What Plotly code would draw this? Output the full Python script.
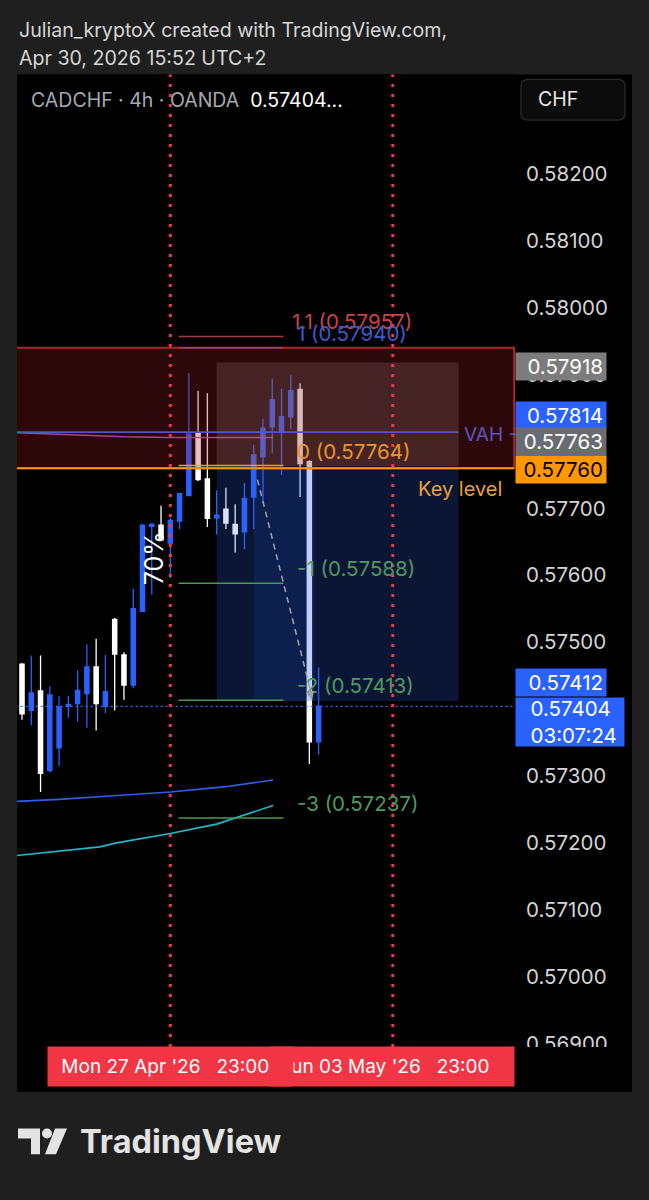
import plotly.graph_objects as go

W, H = 649, 1200

# ---------------- data ----------------
times = [
    "Thu 23 Apr '26 07:00", "Thu 23 Apr '26 11:00", "Thu 23 Apr '26 15:00", "Thu 23 Apr '26 19:00",
    "Thu 23 Apr '26 23:00", "Fri 24 Apr '26 03:00", "Fri 24 Apr '26 07:00", "Fri 24 Apr '26 11:00",
    "Fri 24 Apr '26 15:00", "Fri 24 Apr '26 19:00", "Sun 26 Apr '26 23:00", "Mon 27 Apr '26 03:00",
    "Mon 27 Apr '26 07:00", "Mon 27 Apr '26 11:00", "Mon 27 Apr '26 15:00", "Mon 27 Apr '26 19:00",
    "Mon 27 Apr '26 23:00", "Tue 28 Apr '26 03:00", "Tue 28 Apr '26 07:00", "Tue 28 Apr '26 11:00",
    "Tue 28 Apr '26 15:00", "Tue 28 Apr '26 19:00", "Tue 28 Apr '26 23:00", "Wed 29 Apr '26 03:00",
    "Wed 29 Apr '26 07:00", "Wed 29 Apr '26 11:00", "Wed 29 Apr '26 15:00", "Wed 29 Apr '26 19:00",
    "Wed 29 Apr '26 23:00", "Thu 30 Apr '26 03:00", "Thu 30 Apr '26 07:00", "Thu 30 Apr '26 11:00",
    "Thu 30 Apr '26 15:00",
]
future_times = [
    "Thu 30 Apr '26 19:00", "Thu 30 Apr '26 23:00", "Fri 01 May '26 03:00", "Fri 01 May '26 07:00",
    "Fri 01 May '26 11:00", "Fri 01 May '26 15:00", "Fri 01 May '26 19:00", "Sun 03 May '26 23:00",
]
opens = [0.57467, 0.57398, 0.57427, 0.57308, 0.57342, 0.57405, 0.57408, 0.57423, 0.57463, 0.57404,
         0.57534, 0.57481, 0.57436, 0.57546, 0.57673, 0.57675, 0.57648, 0.57681, 0.57719, 0.57812,
         0.57744, 0.57686, 0.57699, 0.57676, 0.57665, 0.57717, 0.57777, 0.57822, 0.57814, 0.57837,
         0.57878, 0.57770, 0.57351]
highs = [0.57469, 0.57480, 0.57480, 0.57434, 0.57419, 0.57420, 0.57458, 0.57497, 0.57505, 0.57481,
         0.57536, 0.57485, 0.57580, 0.57677, 0.57678, 0.57704, 0.57686, 0.57723, 0.57902, 0.57876,
         0.57872, 0.57727, 0.57731, 0.57706, 0.57738, 0.57795, 0.57834, 0.57894, 0.57879, 0.57899,
         0.57887, 0.57772, 0.57462]
lows = [0.57384, 0.57376, 0.57276, 0.57305, 0.57315, 0.57387, 0.57381, 0.57372, 0.57368, 0.57394,
        0.57398, 0.57414, 0.57431, 0.57546, 0.57571, 0.57651, 0.57596, 0.57669, 0.57718, 0.57741,
        0.57672, 0.57661, 0.57669, 0.57634, 0.57639, 0.57669, 0.57708, 0.57782, 0.57750, 0.57819,
        0.57717, 0.57318, 0.57332]
closes = [0.57393, 0.57424, 0.57304, 0.57421, 0.57403, 0.57407, 0.57428, 0.57463, 0.57408, 0.57426,
          0.57482, 0.57436, 0.57550, 0.57675, 0.57676, 0.57653, 0.57682, 0.57722, 0.57811, 0.57743,
          0.57685, 0.57690, 0.57678, 0.57662, 0.57715, 0.57780, 0.57820, 0.57862, 0.57837, 0.57876,
          0.57767, 0.57351, 0.57404]

ma_slow_x = [-0.6, 4, 9.5, 16, 22, 27.1]
ma_slow_y = [0.57262, 0.57265, 0.57270, 0.57276, 0.57284, 0.57294]
ma_fast_x = [-0.6, 8.4, 10.2, 16, 21, 27.1]
ma_fast_y = [0.57181, 0.57194, 0.57200, 0.57214, 0.57228, 0.57256]
vwap_x = [-0.6, 5, 11, 16, 27.1]
vwap_y = [0.57813, 0.57810, 0.57807, 0.57806, 0.57806]

fib_levels = ["1.1", "1", "0", "-1", "-2", "-3"]
fib_prices = [0.57957, 0.57940, 0.57764, 0.57588, 0.57413, 0.57237]
fib_colors = ["#c8434a", "#3a5bd0", "#e8962c", "#4f9a60", "#4f9a60", "#4f9a60"]
fib_line_colors = ["#a63a44", "#5b56c8", "#f0a030", "#4a9a50", "#4a9a50", "#4a9a50"]

zone_top, key_level = 0.57940, 0.57760
stop_price, entry_price, target_price = 0.57918, 0.57763, 0.57412
vah_price = 0.57814
last_price = 0.57404
countdown = "03:07:24"
marked_times = ["Mon 27 Apr '26 23:00", "Sun 03 May '26 23:00"]
price_ticks = [0.569, 0.570, 0.571, 0.572, 0.573, 0.574, 0.575, 0.576, 0.577, 0.578, 0.579,
               0.580, 0.581, 0.582]

# ---------------- helpers ----------------
FONT = "Inter, Roboto, sans-serif"
BLUE = "#2962ff"
NB = "\u00a0"
all_times = times + future_times
xs = list(range(len(times)))


def px(x):
    return x / W


def py(y):
    return 1 - y / H


fig = go.Figure()

# moving averages / vwap
fig.add_trace(go.Scatter(x=ma_slow_x, y=ma_slow_y, mode="lines",
                         line=dict(color="#2f5fe6", width=1.6), hoverinfo="skip", showlegend=False))
fig.add_trace(go.Scatter(x=ma_fast_x, y=ma_fast_y, mode="lines",
                         line=dict(color="#22b8cc", width=1.6), hoverinfo="skip", showlegend=False))
fig.add_trace(go.Scatter(x=vwap_x, y=vwap_y, mode="lines",
                         line=dict(color="#9a5ac0", width=1.5), hoverinfo="skip", showlegend=False))

fig.add_trace(go.Candlestick(
    x=xs, open=opens, high=highs, low=lows, close=closes, text=times,
    increasing=dict(line=dict(color=BLUE, width=1.3), fillcolor=BLUE),
    decreasing=dict(line=dict(color="#ffffff", width=1.3), fillcolor="#ffffff"),
    whiskerwidth=0, showlegend=False,
))

shapes = []
# black chart panel
shapes.append(dict(type="rect", xref="paper", yref="paper", layer="below",
                   x0=px(17), x1=px(632), y0=py(1100), y1=py(75),
                   fillcolor="#000000", line=dict(width=0)))
# CHF button (rounded)
bx0, bx1, by0, by1, r = 521, 625, 80, 121, 7
path = (f"M {px(bx0 + r)},{py(by0)} L {px(bx1 - r)},{py(by0)} Q {px(bx1)},{py(by0)} {px(bx1)},{py(by0 + r)} "
        f"L {px(bx1)},{py(by1 - r)} Q {px(bx1)},{py(by1)} {px(bx1 - r)},{py(by1)} "
        f"L {px(bx0 + r)},{py(by1)} Q {px(bx0)},{py(by1)} {px(bx0)},{py(by1 - r)} "
        f"L {px(bx0)},{py(by0 + r)} Q {px(bx0)},{py(by0)} {px(bx0 + r)},{py(by0)} Z")
shapes.append(dict(type="path", xref="paper", yref="paper", layer="below", path=path,
                   fillcolor="#0c0c0c", line=dict(color="#2c2c2c", width=1.2)))

x_left, x_right = -5, 53.1
# supply zone
shapes.append(dict(type="rect", xref="x", yref="y", layer="above",
                   x0=x_left, x1=x_right, y0=key_level, y1=zone_top,
                   fillcolor="rgba(160,30,40,0.28)", line=dict(color="#a8262f", width=2)))
# position tool: stop area
shapes.append(dict(type="rect", xref="x", yref="y", layer="above",
                   x0=21, x1=47.1, y0=entry_price, y1=stop_price,
                   fillcolor="rgba(170,150,150,0.2)", line=dict(width=0)))
# position tool: target area
shapes.append(dict(type="rect", xref="x", yref="y", layer="above",
                   x0=21, x1=47.1, y0=target_price, y1=key_level,
                   fillcolor="rgba(50,110,255,0.2)", line=dict(width=0)))
shapes.append(dict(type="rect", xref="x", yref="y", layer="above",
                   x0=25, x1=31.6, y0=target_price, y1=key_level,
                   fillcolor="rgba(41,98,255,0.13)", line=dict(width=0)))
# key level line
shapes.append(dict(type="line", xref="x", yref="y", layer="above",
                   x0=x_left, x1=x_right, y0=key_level, y1=key_level,
                   line=dict(color="#ff9800", width=2)))
# VAH line
shapes.append(dict(type="line", xref="x", yref="y", layer="above",
                   x0=x_left, x1=47.1, y0=vah_price, y1=vah_price,
                   line=dict(color="#5d52b8", width=1.6)))
# fib lines
for p, c in zip(fib_prices, fib_line_colors):
    shapes.append(dict(type="line", xref="x", yref="y", layer="above",
                       x0=16.9, x1=28.2, y0=p, y1=p, line=dict(color=c, width=1.5)))
# current price dotted line
shapes.append(dict(type="line", xref="x", yref="y", layer="above",
                   x0=x_left, x1=60, y0=last_price, y1=last_price,
                   line=dict(color="#3d6df5", width=1.2, dash="2px,3px")))
# dashed projection
shapes.append(dict(type="line", xref="x", yref="y", layer="above",
                   x0=25.4, x1=31.3, y0=0.57743, y1=0.57418,
                   line=dict(color="#9ea3ab", width=1.5, dash="6px,5px")))
# red dotted vertical time markers
for t in marked_times:
    xi = all_times.index(t)
    shapes.append(dict(type="line", xref="x", yref="paper", layer="above",
                       x0=xi, x1=xi, y0=py(1055), y1=py(75),
                       line=dict(color="#f23645", width=3, dash="3px,7px")))
# cover bottom of axis area (cuts the lowest tick label)
shapes.append(dict(type="rect", xref="paper", yref="paper", layer="above",
                   x0=px(515), x1=px(632), y0=py(1100), y1=py(1055),
                   fillcolor="#000000", line=dict(width=0)))
# TradingView logo
logo = (f"M {px(18)},{py(1137)} L {px(40)},{py(1137)} L {px(40)},{py(1163)} L {px(31)},{py(1163)} "
        f"L {px(31)},{py(1147)} L {px(18)},{py(1147)} Z")
shapes.append(dict(type="path", xref="paper", yref="paper", layer="above", path=logo,
                   fillcolor="#e3e3e3", line=dict(width=0)))
shapes.append(dict(type="circle", xref="paper", yref="paper", layer="above",
                   x0=px(42), x1=px(52), y0=py(1147), y1=py(1137),
                   fillcolor="#e3e3e3", line=dict(width=0)))
slash = (f"M {px(55)},{py(1137)} L {px(67)},{py(1137)} L {px(56)},{py(1163)} L {px(45)},{py(1163)} Z")
shapes.append(dict(type="path", xref="paper", yref="paper", layer="above", path=slash,
                   fillcolor="#e3e3e3", line=dict(width=0)))

ann = []
# header
ann.append(dict(xref="paper", yref="paper", x=px(17), y=py(30), xanchor="left", yanchor="middle",
                text="Julian_kryptoX created with TradingView.com,", showarrow=False,
                font=dict(family=FONT, size=19.6, color="#d6d6d6")))
ann.append(dict(xref="paper", yref="paper", x=px(17), y=py(58), xanchor="left", yanchor="middle",
                text="Apr 30, 2026 15:52 UTC+2", showarrow=False,
                font=dict(family=FONT, size=19.6, color="#d6d6d6")))
ann.append(dict(xref="paper", yref="paper", x=px(29), y=py(101), xanchor="left", yanchor="middle",
                text=f"CADCHF · 4h · OANDA  <span style='color:#ffffff'>{last_price:.5f}...</span>",
                showarrow=False, font=dict(family=FONT, size=19.5, color="#a6a9b0")))
ann.append(dict(xref="paper", yref="paper", x=px(536), y=py(100), xanchor="left", yanchor="middle",
                text="CHF", showarrow=False, font=dict(family=FONT, size=19.5, color="#e6e6e6")))

# fib labels
for lvl, p, c in zip(fib_levels, fib_prices, fib_colors):
    ann.append(dict(xref="x", yref="y", x=29.5, y=p, xanchor="left", yanchor="bottom", yshift=0,
                    xshift=-5 if lvl == "1.1" else 0,
                    text=f"{lvl} ({p:.5f})", showarrow=False,
                    font=dict(family=FONT, size=20.5, color=c)))
ann.append(dict(xref="x", yref="y", x=47.5, y=vah_price, xanchor="left", yanchor="middle", yshift=-2,
                text="VAH -", showarrow=False, font=dict(family=FONT, size=19, color="#5f55c0")))
ann.append(dict(xref="x", yref="y", x=52.0, y=key_level, xanchor="right", yanchor="top", yshift=-7,
                text="Key level", showarrow=False, font=dict(family=FONT, size=20, color="#e9a03a")))
ann.append(dict(xref="x", yref="y", x=14.2, y=0.57625, textangle=-90, xanchor="center", yanchor="middle",
                text="70%", showarrow=False, font=dict(family=FONT, size=25, color="#ffffff")))
# arrow head of projection
ann.append(dict(xref="x", yref="y", x=31.3, y=0.57414, ax=-3, ay=-11, text="", showarrow=True,
                arrowhead=2, arrowsize=1.2, arrowwidth=1.4, arrowcolor="#9ea3ab"))

# time axis labels (second first so the first covers it)
time_texts = {
    marked_times[0]: NB + marked_times[0].replace(" '26 ", " '26" + NB * 3) + NB * 3,
    marked_times[1]: marked_times[1].replace(" '26 ", " '26" + NB * 3) + NB * 3,
}
for t in reversed(marked_times):
    ann.append(dict(xref="x", yref="paper", x=all_times.index(t), y=py(1075), xanchor="center",
                    yanchor="middle", text=time_texts[t], showarrow=False, bgcolor="#f23645",
                    borderpad=8, font=dict(family=FONT, size=19, color="#ffffff")))

ann.append(dict(xref="paper", yref="paper", x=px(78), y=py(1150), xanchor="left", yanchor="middle",
                text="<b>TradingView</b>", showarrow=False,
                font=dict(family=FONT, size=32.5, color="#e3e3e3")))

# price axis labels (text, price, bg, font colour, yshift, box width, box height, align)
axis_labels = [
    (f"{stop_price:.5f}", stop_price, "#7c7c7c", "#ffffff", -4, 84, 21, "right"),
    (f"{vah_price:.5f}", vah_price, BLUE, "#ffffff", 17, 84, 21, "right"),
    (f"{entry_price:.5f}", entry_price, "#6a6c73", "#ffffff", 25, 84, 21, "right"),
    (f"{key_level:.5f}", key_level, "#ff9800", "#000000", -1, 84, 21, "right"),
    (f"{target_price:.5f}", target_price, BLUE, "#ffffff", 19, 84, 21, "right"),
    (f"{NB}{NB}{last_price:.5f}<br>{NB}{NB}{countdown}", last_price, BLUE, "#ffffff", -16, 102, 42, "left"),
]
for txt, p, bg, fc, sh, bw, bh, al in axis_labels:
    ann.append(dict(xref="paper", yref="y", x=px(515), y=p, xanchor="left", yanchor="middle", yshift=sh,
                    text=txt, showarrow=False, align=al, bgcolor=bg, borderpad=3, width=bw, height=bh,
                    font=dict(family=FONT, size=20.5, color=fc)))

fig.update_layout(
    width=W, height=H,
    margin=dict(l=0, r=0, t=0, b=0),
    paper_bgcolor="#1f1f1f", plot_bgcolor="#000000",
    boxgap=0.35,
    xaxis=dict(domain=[px(17), px(515)], range=[-0.54, 53.19], showgrid=False, zeroline=False,
               showticklabels=False, rangeslider=dict(visible=False), fixedrange=True),
    yaxis=dict(domain=[py(1055), py(75)], range=[0.568947, 0.583487], side="right",
               showgrid=False, zeroline=False, tickvals=price_ticks, fixedrange=True,
               ticktext=[f"{v:.5f}" for v in price_ticks], ticks="", ticklabelstandoff=10,
               tickfont=dict(family=FONT, size=20.5, color="#d4d4d4")),
    shapes=shapes, annotations=ann, showlegend=False,
)

fig.write_html("out.html", config={"displayModeBar": False},
               post_script="document.body.style.margin='0';document.body.style.background='#1f1f1f';")
